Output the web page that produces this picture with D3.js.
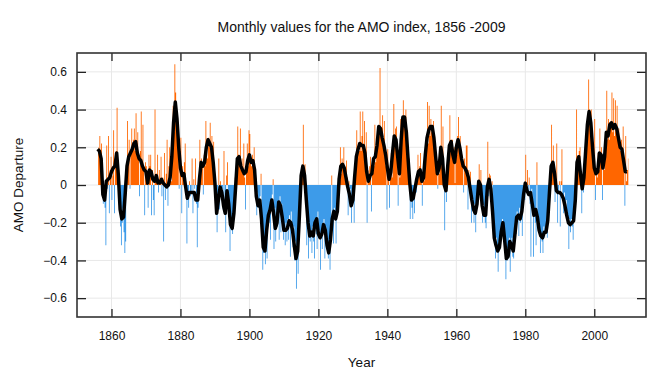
<!DOCTYPE html>
<html>
<head>
<meta charset="utf-8">
<script src="https://cdn.jsdelivr.net/npm/d3@7"></script>
<style>
body { margin: 0; background: #fff; }
text { font-family: "Liberation Sans", Arial, sans-serif; fill: #111; }
</style>
</head>
<body>
<svg id="chart" width="672" height="372"></svg>
<script>
// AMO index
var firstYear = 1856;

// four values per year (Jan-Mar, Apr-Jun, Jul-Sep, Oct-Dec), 1856 - 2009
var amoQuarterly = [
	0.20, 0.17, 0.26, 0.15,
	0.22, 0.08, -0.10, -0.06,
	-0.12, -0.32, 0.21, -0.02,
	0.26, -0.15, 0.08, 0.15,
	-0.08, 0.05, 0.29, -0.15,
	0.12, 0.18, 0.41, 0.10,
	0.08, 0.02, -0.22, -0.32,
	-0.20, -0.12, -0.25, -0.36,
	-0.30, 0.02, 0.34, 0.12,
	0.24, -0.02, 0.18, 0.30,
	0.20, 0.24, 0.30, 0.18,
	0.38, 0.22, 0.28, 0.15,
	-0.06, 0.18, 0.39, 0.10,
	0.32, 0.08, -0.16, 0.12,
	0.10, 0.04, -0.12, 0.16,
	0.10, 0.16, -0.16, 0.08,
	-0.08, -0.16, 0.40, 0.05,
	0.06, 0.16, -0.04, 0.08,
	0.02, 0.15, -0.06, 0.04,
	-0.30, 0.17, -0.08, 0.06,
	0.24, -0.11, 0.10, 0.20,
	0.06, 0.02, 0.16, 0.42,
	0.28, 0.64, 0.49, 0.38,
	0.36, 0.28, -0.02, 0.18,
	0.25, -0.15, 0.10, 0.06,
	0.12, 0.22, -0.02, -0.31,
	-0.08, -0.12, 0.02, -0.06,
	-0.04, 0.14, -0.15, 0.03,
	-0.02, 0.14, -0.10, -0.33,
	-0.12, 0.02, 0.24, 0.10,
	0.14, 0.12, -0.05, 0.16,
	0.10, 0.34, 0.20, 0.14,
	0.25, 0.20, 0.33, 0.18,
	0.26, 0.14, 0.23, 0.04,
	0.05, -0.08, -0.25, -0.10,
	0.14, -0.13, 0.02, -0.06,
	-0.02, -0.13, 0.18, -0.12,
	-0.25, 0.05, 0.12, -0.08,
	-0.12, -0.35, -0.20, -0.24,
	-0.26, -0.20, -0.10, 0.04,
	-0.04, 0.08, 0.31, 0.16,
	0.12, 0.30, 0.08, 0.14,
	0.06, 0.22, 0.04, -0.13,
	0.12, 0.22, 0.10, 0.29,
	0.27, 0.14, 0.10, 0.16,
	0.12, 0.20, 0.06, 0.04,
	-0.16, -0.04, -0.12, -0.08,
	-0.06, 0.06, -0.20, -0.45,
	-0.36, -0.30, -0.42, -0.30,
	-0.39, -0.18, -0.14, -0.20,
	-0.29, -0.08, -0.05, 0.03,
	-0.34, -0.12, -0.30, -0.18,
	-0.22, -0.16, -0.29, -0.06,
	-0.25, -0.10, -0.18, -0.29,
	-0.22, -0.32, -0.20, -0.30,
	-0.18, -0.29, -0.16, -0.38,
	-0.14, -0.26, -0.33, -0.22,
	-0.40, -0.30, -0.55, -0.36,
	-0.47, -0.30, -0.18, -0.04,
	0.02, 0.08, 0.32, 0.04,
	0.11, -0.04, -0.32, -0.10,
	-0.39, -0.22, -0.30, -0.24,
	-0.36, -0.22, -0.30, -0.39,
	-0.18, -0.26, -0.34, -0.14,
	-0.28, -0.24, -0.45, -0.26,
	-0.34, -0.20, -0.18, -0.39,
	-0.22, -0.30, -0.28, -0.39,
	-0.32, -0.45, -0.26, 0.05,
	-0.20, -0.31, -0.12, -0.18,
	-0.31, -0.16, -0.10, -0.04,
	0.08, 0.20, 0.06, 0.14,
	0.10, 0.20, 0.08, 0.05,
	0.13, 0.04, -0.16, 0.02,
	-0.06, -0.02, -0.20, -0.10,
	-0.06, -0.20, 0.06, 0.12,
	0.29, 0.14, 0.22, 0.18,
	0.39, 0.18, 0.26, 0.39,
	0.20, 0.34, 0.14, 0.28,
	-0.20, 0.08, 0.02, 0.10,
	0.15, -0.14, 0.08, 0.12,
	0.10, 0.32, 0.12, 0.20,
	0.18, 0.26, 0.30, 0.62,
	0.28, 0.30, 0.37, 0.22,
	0.34, 0.18, 0.10, -0.13,
	0.19, 0.06, -0.12, 0.08,
	0.17, 0.04, 0.20, 0.43,
	0.22, 0.30, 0.31, 0.18,
	-0.11, 0.16, 0.04, 0.35,
	0.20, 0.30, 0.45, 0.34,
	0.30, 0.40, 0.24, 0.29,
	0.10, 0.14, -0.18, -0.02,
	-0.12, -0.18, -0.04, -0.15,
	0.02, -0.04, 0.06, 0.16,
	0.05, 0.10, 0.17, 0.02,
	-0.11, 0.06, 0.02, 0.12,
	0.14, 0.20, 0.44, 0.22,
	0.42, 0.26, 0.35, 0.28,
	0.30, 0.34, 0.22, 0.18,
	0.16, 0.10, -0.02, 0.08,
	0.06, 0.14, 0.42, 0.16,
	0.31, 0.08, -0.24, 0.02,
	-0.09, 0.06, 0.12, 0.16,
	0.37, 0.20, 0.24, 0.24,
	0.14, 0.20, 0.01, 0.22,
	0.16, 0.26, 0.36, 0.18,
	0.26, 0.18, 0.16, 0.10,
	-0.04, 0.14, 0.08, 0.21,
	0.21, -0.13, 0.08, 0.02,
	0.07, -0.20, -0.06, -0.12,
	-0.20, -0.10, -0.25, -0.12,
	-0.08, 0.02, 0.11, -0.02,
	0.08, -0.06, -0.20, -0.10,
	-0.14, -0.20, -0.23, -0.10,
	0.23, -0.06, 0.06, 0.05,
	-0.04, 0.02, -0.16, -0.22,
	-0.26, -0.39, -0.28, -0.34,
	-0.46, -0.30, -0.34, -0.28,
	-0.22, -0.18, -0.24, -0.29,
	-0.32, -0.50, -0.36, -0.40,
	-0.34, -0.28, -0.46, -0.32,
	-0.28, -0.38, -0.39, -0.30,
	-0.22, -0.26, -0.14, -0.18,
	-0.27, -0.12, -0.20, -0.16,
	-0.27, -0.10, -0.04, -0.08,
	0.16, -0.02, 0.08, -0.06,
	0.04, -0.10, -0.38, -0.02,
	-0.08, -0.38, -0.14, -0.20,
	-0.32, 0.12, -0.16, -0.22,
	-0.20, -0.36, -0.26, -0.30,
	-0.36, -0.22, -0.28, -0.25,
	-0.20, -0.28, -0.15, -0.10,
	-0.06, 0.04, 0.32, 0.12,
	0.21, 0.08, -0.09, 0.02,
	0.22, -0.20, -0.04, 0.02,
	-0.22, 0.02, 0.19, -0.06,
	-0.15, -0.04, -0.12, -0.08,
	-0.14, -0.20, -0.34, -0.18,
	-0.25, -0.18, -0.22, -0.29,
	-0.16, -0.12, 0.04, 0.40,
	0.14, 0.10, 0.18, 0.20,
	0.04, -0.15, 0.02, -0.04,
	0.06, 0.10, 0.22, 0.26,
	0.30, 0.56, 0.40, 0.32,
	0.40, 0.26, 0.18, 0.14,
	0.35, -0.08, 0.08, 0.04,
	0.17, 0.08, 0.30, 0.14,
	0.20, -0.08, 0.12, 0.08,
	0.16, 0.22, 0.50, 0.24,
	0.35, 0.24, 0.30, 0.34,
	0.49, 0.28, 0.46, 0.26,
	0.45, 0.28, 0.42, 0.26,
	0.30, 0.22, 0.18, 0.24,
	0.16, 0.31, 0.12, -0.11,
	0.26, 0.02, 0.08, 0.14
];

// smoothed curve (black line), two readings per year, 1856.0 - 2009.5
var amoSmooth = [
	0.19, 0.18, 0.14, -0.05, -0.08, 0.02, 0.03, 0.04, 0.07, 0.09,
	0.10, 0.17, 0.05, -0.13, -0.18, -0.17, -0.04, 0.10, 0.15, 0.17,
	0.19, 0.22, 0.23, 0.17, 0.14, 0.13, 0.10, 0.08, 0.07, 0.01,
	0.08, 0.07, 0.03, 0.02, 0.05, 0.01, 0.01, 0.03, 0.01, 0.00,
	-0.01, 0.00, 0.04, 0.15, 0.33, 0.44, 0.35, 0.20, 0.09, 0.05,
	0.06, -0.01, -0.07, -0.04, -0.04, -0.04, -0.04, -0.08, -0.08, 0.03,
	0.12, 0.10, 0.12, 0.20, 0.24, 0.22, 0.20, 0.12, 0.01, -0.15,
	-0.08, -0.01, -0.04, -0.11, -0.15, -0.03, -0.10, -0.21, -0.23, -0.15,
	-0.01, 0.14, 0.15, 0.10, 0.08, 0.06, 0.07, 0.13, 0.16, 0.12,
	0.13, 0.08, -0.06, -0.11, -0.08, -0.18, -0.33, -0.35, -0.24, -0.16,
	-0.13, -0.08, -0.15, -0.23, -0.20, -0.09, -0.11, -0.17, -0.24, -0.24,
	-0.23, -0.19, -0.20, -0.24, -0.32, -0.39, -0.35, -0.16, 0.05, 0.10,
	0.05, -0.08, -0.20, -0.27, -0.25, -0.27, -0.20, -0.18, -0.26, -0.28,
	-0.26, -0.21, -0.24, -0.32, -0.36, -0.29, -0.18, -0.14, -0.18, -0.14,
	0.03, 0.10, 0.11, 0.09, 0.04, -0.01, -0.05, -0.11, -0.08, 0.04,
	0.15, 0.19, 0.22, 0.21, 0.21, 0.17, 0.07, 0.02, 0.05, 0.06,
	0.14, 0.15, 0.21, 0.31, 0.30, 0.25, 0.21, 0.16, 0.09, 0.03,
	0.07, 0.17, 0.26, 0.24, 0.15, 0.06, 0.24, 0.36, 0.36, 0.28,
	0.14, 0.01, -0.08, -0.07, -0.02, 0.03, 0.07, 0.08, 0.02, 0.04,
	0.16, 0.25, 0.29, 0.31, 0.31, 0.25, 0.15, 0.06, 0.09, 0.20,
	0.14, 0.00, -0.03, 0.10, 0.21, 0.23, 0.16, 0.12, 0.20, 0.24,
	0.20, 0.14, 0.10, 0.09, 0.07, 0.04, -0.02, -0.08, -0.13, -0.15,
	-0.10, 0.02, 0.00, -0.11, -0.16, -0.16, -0.01, 0.03, -0.02, -0.14,
	-0.28, -0.32, -0.35, -0.33, -0.25, -0.20, -0.29, -0.39, -0.38, -0.30,
	-0.32, -0.35, -0.26, -0.17, -0.16, -0.18, -0.14, -0.05, 0.01, -0.03,
	-0.05, -0.04, -0.10, -0.16, -0.13, -0.17, -0.24, -0.27, -0.28, -0.25,
	-0.25, -0.19, -0.04, 0.10, 0.12, 0.06, -0.03, -0.04, -0.04, -0.05,
	-0.07, -0.11, -0.16, -0.20, -0.21, -0.20, -0.19, -0.08, 0.12, 0.15,
	0.06, -0.02, 0.04, 0.18, 0.32, 0.39, 0.33, 0.20, 0.09, 0.06,
	0.07, 0.17, 0.16, 0.09, 0.15, 0.28, 0.26, 0.32, 0.33, 0.30,
	0.32, 0.30, 0.25, 0.20, 0.19, 0.13, 0.07, 0.07
];

var xTicks = [1860, 1880, 1900, 1920, 1940, 1960, 1980, 2000];
var yTicks = [-0.6, -0.4, -0.2, 0, 0.2, 0.4, 0.6];

var posColor = "#ff6600",
	negColor = "#3d9be9";

drawAmo("#chart");

function drawAmo(sel) {

	var margin = {top: 53, right: 26, bottom: 55, left: 77},
		width = 672 - margin.left - margin.right,
		height = 372 - margin.top - margin.bottom;

	var x = d3.scaleLinear().domain([1850, 2015]).range([0, width]);
	var y = d3.scaleLinear().domain([-0.7, 0.7]).range([height, 0]);

	var svg = d3.select(sel);
	var chart = svg.append("g")
		.attr("transform", "translate(" + margin.left + "," + margin.top + ")");

	var quarterly = amoQuarterly.map(function(v, i) {
		return {t: firstYear + i / 4 + 0.125, v: v};
	});
	var smooth = amoSmooth.map(function(v, i) {
		return {t: firstYear + i / 2, v: v};
	});

	// grid lines
	chart.append("g").selectAll("line")
		.data(xTicks)
	  .enter().append("line")
		.attr("x1", function(d) { return x(d); })
		.attr("x2", function(d) { return x(d); })
		.attr("y1", 0).attr("y2", height)
		.attr("stroke", "#e8e8e8").attr("stroke-width", 1);
	chart.append("g").selectAll("line")
		.data(yTicks)
	  .enter().append("line")
		.attr("y1", function(d) { return y(d); })
		.attr("y2", function(d) { return y(d); })
		.attr("x1", 0).attr("x2", width)
		.attr("stroke", "#e8e8e8").attr("stroke-width", 1);

	// split area into above / below zero
	var defs = svg.append("defs");
	defs.append("clipPath").attr("id", "clipPos")
	  .append("rect").attr("x", 0).attr("y", 0)
		.attr("width", width).attr("height", y(0));
	defs.append("clipPath").attr("id", "clipNeg")
	  .append("rect").attr("x", 0).attr("y", y(0))
		.attr("width", width).attr("height", height - y(0));

	var area = d3.area()
		.curve(d3.curveStep)
		.x(function(d) { return x(d.t); })
		.y0(y(0))
		.y1(function(d) { return y(d.v); });

	chart.append("path")
		.datum(quarterly)
		.attr("clip-path", "url(#clipPos)")
		.attr("fill", posColor)
		.attr("d", area);
	chart.append("path")
		.datum(quarterly)
		.attr("clip-path", "url(#clipNeg)")
		.attr("fill", negColor)
		.attr("d", area);

	// smoothed line
	var line = d3.line()
		.x(function(d) { return x(d.t); })
		.y(function(d) { return y(d.v); });
	chart.append("path")
		.datum(smooth)
		.attr("fill", "none")
		.attr("stroke", "#000")
		.attr("stroke-width", 3.5)
		.attr("stroke-linejoin", "round")
		.attr("d", line);

	// axes, ticks pointing inward on all four sides
	chart.append("g")
		.attr("transform", "translate(0," + height + ")")
		.call(d3.axisBottom(x).tickValues(xTicks).tickFormat(d3.format("d"))
			.tickSizeInner(-8).tickSizeOuter(0).tickPadding(14));
	chart.append("g")
		.call(d3.axisTop(x).tickValues(xTicks).tickFormat("")
			.tickSizeInner(-8).tickSizeOuter(0));
	chart.append("g")
		.call(d3.axisLeft(y).tickValues(yTicks).tickFormat(function(d) { return d === 0 ? "0" : d3.format(".1f")(d); })
			.tickSizeInner(-9).tickSizeOuter(0).tickPadding(10));
	chart.append("g")
		.attr("transform", "translate(" + width + ",0)")
		.call(d3.axisRight(y).tickValues(yTicks).tickFormat("")
			.tickSizeInner(-9).tickSizeOuter(0));

	chart.selectAll(".domain").remove();
	chart.selectAll(".tick line").attr("stroke", "#222").attr("stroke-width", 1.3);
	chart.selectAll(".tick text")
		.attr("fill", "#111")
		.style("font-size", "12px")
		.style("font-family", "'Liberation Sans', Arial, sans-serif");

	// frame
	chart.append("rect")
		.attr("width", width).attr("height", height)
		.attr("fill", "none")
		.attr("stroke", "#333").attr("stroke-width", 1.6);

	// title and axis titles
	svg.append("text")
		.attr("x", margin.left + width / 2)
		.attr("y", 32)
		.attr("text-anchor", "middle")
		.style("font-size", "14px")
		.text("Monthly values for the AMO index, 1856 -2009");

	svg.append("text")
		.attr("x", margin.left + width / 2)
		.attr("y", 367)
		.attr("text-anchor", "middle")
		.style("font-size", "13.5px")
		.text("Year");

	svg.append("text")
		.attr("transform", "translate(23," + (margin.top + y(0)) + ") rotate(-90)")
		.attr("text-anchor", "middle")
		.style("font-size", "13.5px")
		.text("AMO Departure");
}
</script>
</body>
</html>
